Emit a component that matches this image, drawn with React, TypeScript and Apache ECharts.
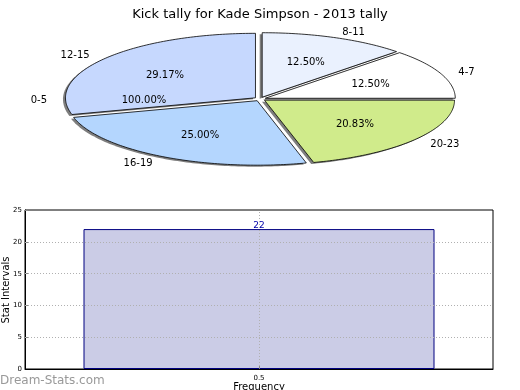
import React, { useEffect, useRef } from "react";
import * as echarts from "echarts";

const pieLabels = ["4-7", "8-11", "12-15", "16-19", "20-23"];
const pieValues = [3, 3, 7, 6, 5];
const pieColors = ["#ffffff", "#eaf1fe", "#c6d8fe", "#b4d6fe", "#d0eb8b"];
const extraLabel = "0-5";
const extraPct = "100.00%";
const extraAngle = 180;

const barCategories = ["0.5"];
const barValues = [22];
const yGridValues = [5, 10, 15, 20];

const FONT = "DejaVu Sans";

export default function App() {
  const ref = useRef<HTMLDivElement>(null);
  useEffect(() => {
    if (!ref.current) return;
    const chart = echarts.init(ref.current, undefined, { renderer: "svg" });
    const total = pieValues.reduce((a, b) => a + b, 0);
    const cx = 260, cy = 99, rx = 190, ry = 64.5, expl = 0.03;

    const renderItem = (params: any, api: any) => {
      const i = params.dataIndex;
      if (i >= pieValues.length) {
        const t = (extraAngle * Math.PI) / 180;
        return {
          type: "group",
          children: [
            {
              type: "text", z2: 30,
              style: { text: extraLabel, x: cx + 1.1 * rx * Math.cos(t) - 4, y: cy - 1.1 * ry * Math.sin(t), align: "right", verticalAlign: "middle", fontSize: 10, fontFamily: FONT, fill: "#000" },
            },
            {
              type: "text", z2: 30,
              style: { text: extraPct, x: cx + 0.6 * rx * Math.cos(t) - 2, y: cy - 0.6 * ry * Math.sin(t), align: "center", verticalAlign: "middle", fontSize: 10, fontFamily: FONT, fill: "#000" },
            },
          ],
        };
      }
      let before = 0;
      for (let k = 0; k < i; k++) before += pieValues[k];
      const v = api.value(0);
      const a1 = (before / total) * 360;
      const a2 = ((before + v) / total) * 360;
      const mid = (((a1 + a2) / 2) * Math.PI) / 180;
      const ox = expl * rx * Math.cos(mid);
      const oy = -expl * ry * Math.sin(mid);
      const ccx = cx + ox, ccy = cy + oy;
      const pts: number[][] = [[ccx, ccy]];
      const steps = Math.max(2, Math.ceil(a2 - a1));
      for (let s = 0; s <= steps; s++) {
        const a = ((a1 + ((a2 - a1) * s) / steps) * Math.PI) / 180;
        pts.push([ccx + rx * Math.cos(a), ccy - ry * Math.sin(a)]);
      }
      const shadowPts = pts.map((p) => [p[0] - 2.5, p[1] + 1.5]);
      const pct = ((v / total) * 100).toFixed(2) + "%";
      const cosm = Math.cos(mid);
      return {
        type: "group",
        children: [
          { type: "polygon", z2: 0, shape: { points: shadowPts }, style: { fill: "rgba(40,40,40,0.6)", stroke: "none" } },
          { type: "polygon", z2: 10, shape: { points: pts }, style: { fill: pieColors[i], stroke: "#000", lineWidth: 0.8, lineJoin: "round" } },
          {
            type: "text", z2: 30,
            style: { text: pieLabels[i], x: ccx + 1.1 * rx * cosm, y: ccy - 1.1 * ry * Math.sin(mid), align: cosm >= 0 ? "left" : "right", verticalAlign: "middle", fontSize: 10, fontFamily: FONT, fill: "#000" },
          },
          {
            type: "text", z2: 30,
            style: { text: pct, x: ccx + 0.6 * rx * cosm, y: ccy - 0.6 * ry * Math.sin(mid), align: "center", verticalAlign: "middle", fontSize: 10, fontFamily: FONT, fill: "#000" },
          },
        ],
      };
    };

    const dotted = { color: "#b0b0b0", type: [1, 2] as any, width: 1 };

    chart.setOption({
      animation: false,
      textStyle: { fontFamily: FONT },
      title: {
        text: "Kick tally for Kade Simpson - 2013 tally",
        left: "center",
        top: 2,
        textStyle: { fontSize: 13, fontWeight: "normal", color: "#000", fontFamily: FONT },
      },
      graphic: [
        {
          type: "text",
          left: 0,
          top: 374,
          style: { text: "Dream-Stats.com", fontSize: 12, fontWeight: "normal", fill: "#999999", fontFamily: FONT },
        },
        {
          type: "text",
          x: 5,
          y: 290,
          rotation: Math.PI / 2,
          style: { text: "Stat Intervals", fontSize: 10, fill: "#000", fontFamily: FONT, align: "center", verticalAlign: "middle" },
        },
      ],
      grid: { left: 25, right: 27, top: 210, bottom: 21, outerBoundsMode: "none", containLabel: false, show: true, borderColor: "#000", borderWidth: 1, backgroundColor: "transparent" },
      xAxis: {
        type: "category",
        data: barCategories,
        name: "Frequency",
        nameLocation: "middle",
        nameGap: 9,
        nameTextStyle: { fontSize: 10, color: "#000", fontFamily: FONT },
        axisLine: { show: true, lineStyle: { color: "#000" } },
        axisTick: { show: true, alignWithLabel: true, inside: true, length: 3, lineStyle: { color: "#888" } },
        axisLabel: { fontSize: 7, color: "#000", margin: 5, fontFamily: FONT },
        splitLine: { show: false },
        z: 5,
      },
      yAxis: {
        type: "value",
        min: 0,
        max: 25,
        interval: 5,
        axisLine: { show: true, lineStyle: { color: "#000" } },
        axisTick: { show: true, inside: true, length: 3, lineStyle: { color: "#888" } },
        axisLabel: { fontSize: 7, color: "#000", margin: 3, fontFamily: FONT },
        splitLine: { show: false },
      },
      series: [
        {
          type: "custom",
          coordinateSystem: "none",
          renderItem,
          data: [...pieValues, 0],
          silent: true,
        },
        {
          type: "bar",
          data: barValues,
          barWidth: "75%",
          itemStyle: { color: "#cbcce6", borderColor: "#000080", borderWidth: 1 },
          label: { show: true, position: "top", distance: 0, fontSize: 9, color: "#0000aa", fontFamily: FONT },
          markLine: {
            silent: true,
            symbol: "none",
            label: { show: false },
            lineStyle: dotted,
            data: [
              { xAxis: barCategories[0] },
              ...yGridValues.map((v) => ({ yAxis: v })),
            ],
          },
        },
      ],
    });
    return () => chart.dispose();
  }, []);
  return <div ref={ref} style={{ position: "fixed", left: 0, top: 0, width: 520, height: 390 }} />;
}
